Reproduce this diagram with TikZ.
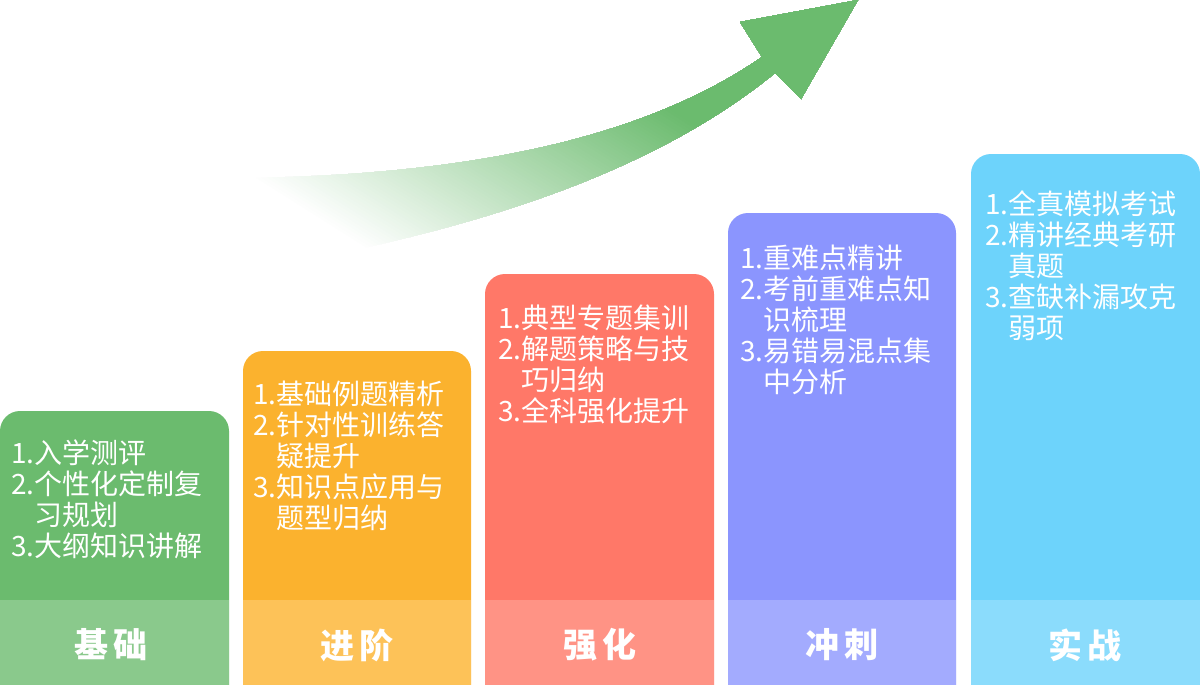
\documentclass[tikz,border=0pt]{standalone}
\usepackage{fontspec}
\newfontfamily\cjk{Noto Sans CJK SC}
\definecolor{gA}{HTML}{6BBB6E}
\definecolor{gB}{HTML}{8AC98C}
\definecolor{oA}{HTML}{FBB22E}
\definecolor{oB}{HTML}{FDC258}
\definecolor{rA}{HTML}{FF7868}
\definecolor{rB}{HTML}{FF9385}
\definecolor{pA}{HTML}{8B95FE}
\definecolor{pB}{HTML}{A3ABFE}
\definecolor{bA}{HTML}{6DD3FB}
\definecolor{bB}{HTML}{8BDCFC}
\tikzset{
  itemtext/.style={anchor=north west, inner sep=0pt, align=left, text=white,
    font=\cjk\fontsize{28}{31}\selectfont},
  stagetext/.style={inner sep=0pt, text=white,
    font=\cjk\bfseries\fontsize{34}{36}\selectfont},
  boxcorner/.style={rounded corners=20pt}
}
\newcommand{\ind}{\phantom{1.}}
\begin{document}
\begin{tikzpicture}[x=1pt,y=-1pt]
\useasboundingbox (0,0) rectangle (1200,685);
\fill[white] (0,0) rectangle (1200,685);

% arrow with a diagonal fade towards its tail
\begin{scope}
\clip (220,178) .. controls (460,178) and (642,140) .. (762,57)
  -- (740,22) -- (858,0) -- (801,99) -- (775,73)
  .. controls (650,175) and (480,222) .. (355,250) -- cycle;
\foreach \k in {0,...,102} {
  \pgfmathsetmacro\sa{\k*3-40}
  \pgfmathsetmacro\pc{max(0,min(100,(\sa+1.5+15)*0.355))}
  \fill[gA!\pc!white]
    ({\sa*0.535+150*0.845},{-\sa*0.845+150*0.535})
    -- ({\sa*0.535+850*0.845},{-\sa*0.845+850*0.535})
    -- ({500*0.535+850*0.845},{-500*0.845+850*0.535})
    -- ({500*0.535+150*0.845},{-500*0.845+150*0.535}) -- cycle;
}
\end{scope}

% column 1
\fill[gA, boxcorner] (0,720) rectangle (229,411);
\fill[gB] (0,600) rectangle (229,685);
\node[itemtext] (t1) at (11,439.2) {1.入学测评\\2.个性化定制复\\\ind 习规划\\3.大纲知识讲解};
\node[stagetext] (s1) at (111,645) {基\hspace{6pt}础};

% column 2
\fill[oA, boxcorner] (243,720) rectangle (471,351);
\fill[oB] (243,600) rectangle (471,685);
\node[itemtext] (t2) at (253,381.2) {1.基础例题精析\\2.针对性训练答\\\ind 疑提升\\3.知识点应用与\\\ind 题型归纳};
\node[stagetext] (s2) at (357,645) {进\hspace{6pt}阶};

% column 3
\fill[rA, boxcorner] (485,720) rectangle (714,274);
\fill[rB] (485,600) rectangle (714,685);
\node[itemtext] (t3) at (498,304.2) {1.典型专题集训\\2.解题策略与技\\\ind 巧归纳\\3.全科强化提升};
\node[stagetext] (s3) at (600,645) {强\hspace{6pt}化};

% column 4
\fill[pA, boxcorner] (728,720) rectangle (956,213);
\fill[pB] (728,600) rectangle (956,685);
\node[itemtext] (t4) at (740,245.2) {1.重难点精讲\\2.考前重难点知\\\ind 识梳理\\3.易错易混点集\\\ind 中分析};
\node[stagetext] (s4) at (842,645) {冲\hspace{6pt}刺};

% column 5
\fill[bA, boxcorner] (971,720) rectangle (1200,154);
\fill[bB] (971,600) rectangle (1200,685);
\node[itemtext] (t5) at (985,190.2) {1.全真模拟考试\\2.精讲经典考研\\\ind 真题\\3.查缺补漏攻克\\\ind 弱项};
\node[stagetext] (s5) at (1085,645) {实\hspace{6pt}战};
\end{tikzpicture}
\end{document}
